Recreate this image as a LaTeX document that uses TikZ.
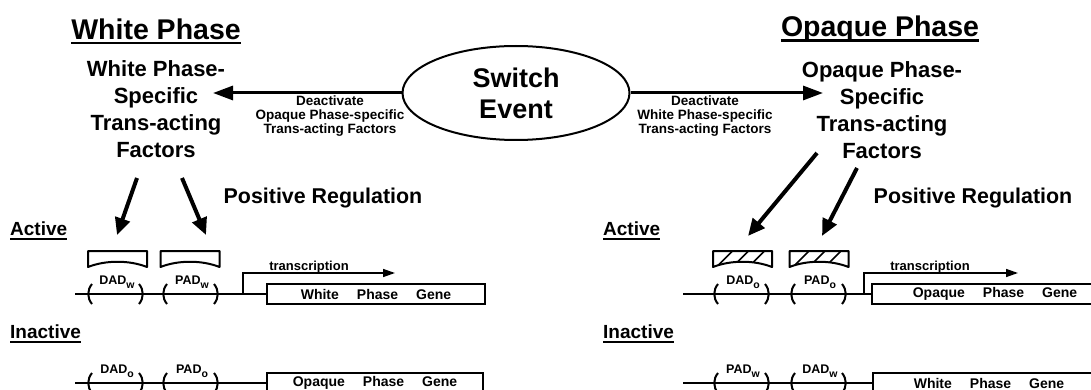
\documentclass[tikz,border=0pt]{standalone}
\usepackage{fontspec}
\setmainfont{Liberation Sans}
\usetikzlibrary{arrows.meta,shapes.geometric}
\newcommand{\dnasite}[4]{%
  \draw[brk] (#2+2,#3-10) .. controls (#2-3,#3-4) and (#2-3,#3+4) .. (#2+2,#3+10);
  \draw[brk] (#2+49,#3-10) .. controls (#2+54,#3-4) and (#2+54,#3+4) .. (#2+49,#3+10);
  \node[sitelbl] (#1) at (#2+27,#3-12) {#4};
}
\newcommand{\sitesub}[2]{#1\raisebox{-4pt}{\fontsize{10.5}{10}\selectfont #2}}
\begin{document}
\begin{tikzpicture}[x=1pt,y=-1pt,
  lbl/.style={inner sep=0pt,font=\bfseries},
  title/.style={lbl,font=\fontsize{28.5}{32}\selectfont\bfseries},
  factxt/.style={lbl,align=center,font=\fontsize{22}{27}\selectfont\bfseries},
  smalltxt/.style={lbl,align=center,font=\fontsize{13.5}{14}\selectfont\bfseries},
  posreg/.style={lbl,font=\fontsize{21.4}{24}\selectfont\bfseries},
  state/.style={lbl,anchor=west,font=\fontsize{19}{21}\selectfont\bfseries},
  sitelbl/.style={lbl,font=\fontsize{12.5}{14}\selectfont\bfseries},
  txlbl/.style={lbl,anchor=base,font=\fontsize{13}{15}\selectfont\bfseries},
  gene/.style={draw,line width=2,inner sep=0pt,minimum height=20pt,font=\fontsize{14}{16}\selectfont\bfseries},
  bigarrow/.style={line width=3,-{Triangle[length=20pt,width=14pt]}},
  facarrow/.style={line width=4,-{Triangle[length=17pt,width=15pt]}},
  txarrow/.style={line width=1.5,-{Triangle[length=12pt,width=8pt]}},
  dna/.style={line width=2},
  brk/.style={line width=2},
  uline/.style={line width=2.4},
  pics/factorbox/.style={code={
    \draw[line width=2,line join=round] (-29.5,-8) -- (29.5,-8) -- (29.5,8)
      .. controls (12,1) and (-12,1) .. (-29.5,8) -- cycle;
  }},
  pics/hatchbox/.style={code={
    \begin{scope}
      \clip (-29.5,-8) -- (29.5,-8) -- (29.5,8) .. controls (12,1) and (-12,1) .. (-29.5,8) -- cycle;
      \foreach \b in {-24,-8,8} \draw[line width=1.6] (\b,6) -- (\b+14,-8);
    \end{scope}
    \draw[line width=2,line join=round] (-29.5,-8) -- (29.5,-8) -- (29.5,8)
      .. controls (12,1) and (-12,1) .. (-29.5,8) -- cycle;
  }}
]
\useasboundingbox (0,0) rectangle (1091,390);
\clip (0,0) rectangle (1091,390);

% titles
\node[title] (wtitle) at (156,29) {White Phase};
\draw[uline] ([yshift=-4pt]wtitle.base west) -- ([yshift=-4pt]wtitle.base east);
\node[title] (otitle) at (880,29) {Opaque Phase};
\draw[uline] ([yshift=-4pt]otitle.base west) -- ([yshift=-4pt]otitle.base east);

% trans-acting factors
\node[factxt] (wfac) at (156,109) {White Phase-\\Specific\\Trans-acting\\Factors};
\node[factxt] (ofac) at (882,110) {Opaque Phase-\\Specific\\Trans-acting\\Factors};

% switch event
\node[draw,ellipse,line width=2,minimum width=227pt,minimum height=94pt,inner sep=0pt,
      align=center,font=\fontsize{27}{31}\selectfont\bfseries] (sw) at (516,93) {Switch\\Event};
\coordinate (wtip) at (213,93);
\coordinate (otip) at (823,93);
\draw[bigarrow] (sw.west) -- (wtip);
\draw[bigarrow] (sw.east) -- (otip);
\node[smalltxt] (wdeact) at (330,116) {Deactivate\\Opaque Phase-specific\\Trans-acting Factors};
\node[smalltxt] (odeact) at (705,116) {Deactivate\\White Phase-specific\\Trans-acting Factors};

% positive regulation
\node[posreg] (wpos) at (323,198) {Positive Regulation};
\node[posreg] (opos) at (973,198) {Positive Regulation};

% active / inactive labels
\node[state] (wact) at (10,229) {Active};
\draw[line width=1.5] ([yshift=-3pt]wact.base west) -- ([yshift=-3pt]wact.base east);
\node[state] (winact) at (10,332) {Inactive};
\draw[line width=1.5] ([yshift=-3pt]winact.base west) -- ([yshift=-3pt]winact.base east);
\node[state] (oact) at (603,229) {Active};
\draw[line width=1.5] ([yshift=-3pt]oact.base west) -- ([yshift=-3pt]oact.base east);
\node[state] (oinact) at (603,332) {Inactive};
\draw[line width=1.5] ([yshift=-3pt]oinact.base west) -- ([yshift=-3pt]oinact.base east);

% ---------- left (white phase) ----------
\node[gene,minimum width=218pt] (wg1) at (376,294) {White\hspace{18pt}Phase\hspace{18pt}Gene};
\coordinate (wl1) at (75,294);
\draw[dna] (wl1) -- (wg1.west);
\dnasite{wd1}{90}{294}{\sitesub{DAD}{w}}
\dnasite{wp1}{165}{294}{\sitesub{PAD}{w}}
\pic (wfb1) at (117.5,259) {factorbox};
\pic (wfb2) at (190,259) {factorbox};
\coordinate (wa1s) at (137,178); \coordinate (wa1e) at (117,235);
\coordinate (wa2s) at (182,178); \coordinate (wa2e) at (206,235);
\draw[facarrow] (wa1s) -- (wa1e);
\draw[facarrow] (wa2s) -- (wa2e);
\coordinate (wtx0) at (243,294); \coordinate (wtx1) at (243,273); \coordinate (wtx2) at (395,273);
\draw[txarrow] (wtx0) -- (wtx1) -- (wtx2);
\node[txlbl] (wtxl) at (309,270) {transcription};

\node[gene,minimum width=216pt] (wg2) at (375,383) {Opaque\hspace{18pt}Phase\hspace{18pt}Gene};
\coordinate (wl2) at (75,383);
\draw[dna] (wl2) -- (wg2.west);
\dnasite{wd2}{90}{383}{\sitesub{DAD}{o}}
\dnasite{wp2}{165}{383}{\sitesub{PAD}{o}}

% ---------- right (opaque phase) ----------
\node[gene,minimum width=246pt] (og1) at (995,294) {Opaque\hspace{18pt}Phase\hspace{18pt}Gene};
\coordinate (ol1) at (683,294);
\draw[dna] (ol1) -- (og1.west);
\dnasite{od1}{716}{294}{\sitesub{DAD}{o}}
\dnasite{op1}{793}{294}{\sitesub{PAD}{o}}
\pic (ofb1) at (742.5,259) {hatchbox};
\pic (ofb2) at (819,259) {hatchbox};
\coordinate (oa1s) at (817,153); \coordinate (oa1e) at (748,236);
\coordinate (oa2s) at (857,168); \coordinate (oa2e) at (822,236);
\draw[facarrow] (oa1s) -- (oa1e);
\draw[facarrow] (oa2s) -- (oa2e);
\coordinate (otx0) at (864,294); \coordinate (otx1) at (864,273); \coordinate (otx2) at (1018,273);
\draw[txarrow] (otx0) -- (otx1) -- (otx2);
\node[txlbl] (otxl) at (930,270) {transcription};

\node[gene,minimum width=232pt] (og2) at (989,383) {White\hspace{18pt}Phase\hspace{18pt}Gene};
\coordinate (ol2) at (683,383);
\draw[dna] (ol2) -- (og2.west);
\dnasite{ow2}{716}{383}{\sitesub{PAD}{w}}
\dnasite{od2}{793}{383}{\sitesub{DAD}{w}}
\end{tikzpicture}
\end{document}
